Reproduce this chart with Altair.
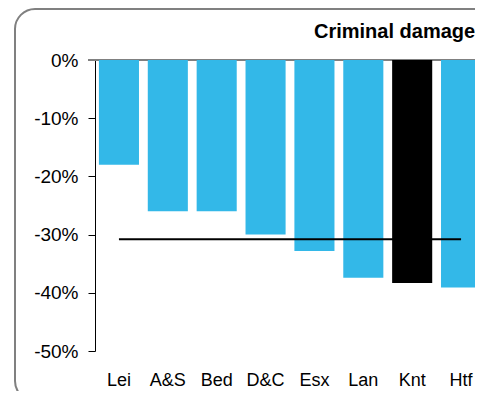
import altair as alt
import pandas as pd

categories = ["Lei", "A&S", "Bed", "D&C", "Esx", "Lan", "Knt", "Htf"]
change = [-0.18, -0.26, -0.26, -0.30, -0.328, -0.374, -0.383, -0.391]
average = [-0.308, -0.308, -0.308, -0.308, -0.308, -0.308, -0.308, -0.308]
highlight = ["Knt"]
title_text = ["Criminal damage"]
y_ticks = [0, -0.1, -0.2, -0.3, -0.4, -0.5]

df = pd.DataFrame({"area": categories, "change": change, "avg": average})
df["hl"] = df["area"].isin(highlight)
one = pd.DataFrame({"k": [0]})
tdf = pd.DataFrame({"t": title_text})

FONT = "Liberation Sans"
BLUE = "#33b8e8"

x_enc = alt.X(
    "area:N",
    sort=categories,
    scale=alt.Scale(paddingInner=0.18, paddingOuter=0.08, range=[0, 390]),
    axis=alt.Axis(title=None, labelAngle=0, ticks=False, domain=False,
                  labelFontSize=18, labelFont=FONT, labelColor="black",
                  labelPadding=20),
)
y_axis = alt.Axis(
    title=None, values=y_ticks,
    labelExpr="(datum.value < 0 ? '-' : '') + format(abs(datum.value), '.0%')",
    grid=False, domainColor="black", tickColor="black", tickSize=7,
    labelFontSize=19, labelFont=FONT, labelColor="black", labelPadding=10,
)
y_scale = alt.Scale(domain=[-0.5, 0], nice=False)

frame = alt.Chart(one).mark_rect(
    filled=False, stroke="#808080", strokeWidth=2, cornerRadius=20
).encode(x=alt.value(-80), x2=alt.value(420), y=alt.value(-51), y2=alt.value(341))

zero = alt.Chart(one).mark_rule(color="#808080", strokeWidth=2).encode(
    x=alt.value(-7), x2=alt.value(400), y=alt.value(0)
)

bars = alt.Chart(df).mark_bar().encode(
    x=x_enc,
    y=alt.Y("change:Q", scale=y_scale, axis=y_axis),
    color=alt.condition(alt.datum.hl, alt.value("black"), alt.value(BLUE)),
)

line = alt.Chart(df).mark_line(color="black", strokeWidth=2).encode(
    x=x_enc,
    y=alt.Y("avg:Q", scale=y_scale, axis=y_axis),
)

title = alt.Chart(tdf).mark_text(
    align="left", baseline="alphabetic", font=FONT, fontSize=20,
    fontWeight="bold", color="black"
).encode(x=alt.value(219), y=alt.value(-22), text="t:N")

chart = alt.layer(frame, zero, bars, line, title).properties(
    width=380, height=291,
    padding={"left": 87, "top": 52, "right": 0, "bottom": 40},
    autosize=alt.AutoSizeParams(type="none"),
).configure_view(strokeWidth=0)

chart.save("out.html", embed_options={"renderer": "svg", "actions": False})
